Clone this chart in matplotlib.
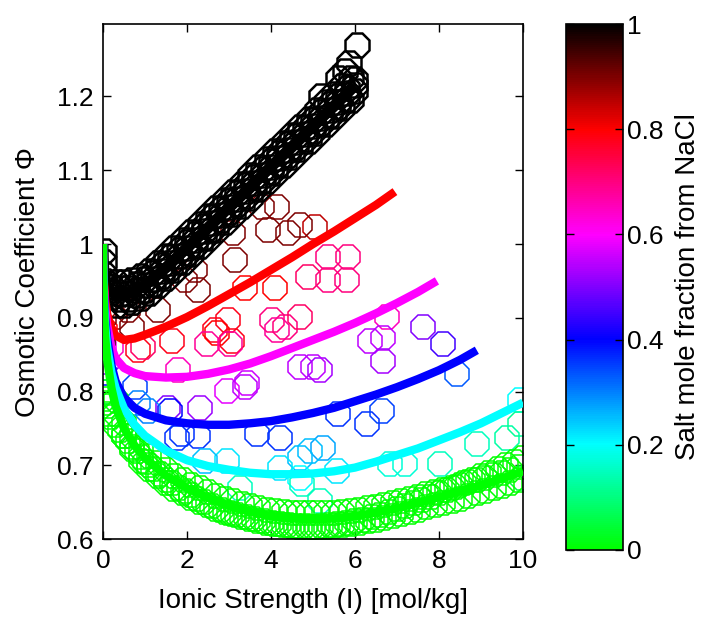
import matplotlib
matplotlib.use("Agg")
import matplotlib.pyplot as plt
from matplotlib.colors import LinearSegmentedColormap, Normalize
from matplotlib.cm import ScalarMappable

plt.rcParams['font.family'] = ['Liberation Sans', 'DejaVu Sans']

# ---------------- data ----------------
# model curves (salt mole fraction from NaCl -> ionic strength, osmotic coefficient)
black_frac = 1.0
black_I = [0, .005, .02, .05, .1, .2, .3, .5, .75, 1, 1.5, 2, 2.5, 3, 3.5, 4, 4.5, 5, 5.5, 6]
black_phi = [1.0, .98, .963, .95, .942, .935, .932, .932, .936, .944, .968, .995, 1.022,
             1.05, 1.077, 1.105, 1.132, 1.16, 1.187, 1.215]

red_frac = 0.8
red_I = [0, .005, .02, .05, .1, .2, .3, .5, .75, 1, 1.5, 2, 2.5, 3, 3.5, 4, 4.5, 5, 5.5, 6, 6.5, 6.95]
red_phi = [1.0, .975, .95, .925, .905, .885, .876, .870, .872, .877, .888, .901, .916, .932,
           .948, .965, .982, 1.000, 1.017, 1.035, 1.053, 1.071]

magenta_frac = 0.6
magenta_I = [0, .005, .02, .05, .1, .2, .3, .5, .75, 1, 1.5, 2, 2.5, 3, 3.5, 4, 4.5, 5, 5.5, 6,
             6.5, 7, 7.5, 7.95]
magenta_phi = [1.0, .97, .945, .915, .89, .86, .845, .832, .825, .821, .819, .820, .824, .830,
               .838, .848, .859, .870, .881, .893, .906, .920, .935, .950]

blue_frac = 0.4
blue_I = [0, .005, .02, .05, .1, .2, .3, .5, .75, 1, 1.5, 2, 2.5, 3, 3.5, 4, 4.5, 5, 5.5, 6,
          6.5, 7, 7.5, 8, 8.5, 8.9]
blue_phi = [1.0, .965, .935, .90, .872, .836, .814, .792, .778, .770, .761, .757, .755, .755,
            .757, .760, .765, .771, .778, .787, .796, .806, .817, .829, .843, .856]

cyan_frac = 0.2
cyan_I = [0, .005, .02, .05, .1, .2, .3, .5, .75, 1, 1.5, 2, 2.5, 3, 3.5, 4, 4.5, 5, 5.5, 6,
          6.5, 7, 7.5, 8, 8.5, 9, 9.5, 10]
cyan_phi = [1.0, .96, .925, .89, .86, .826, .805, .777, .755, .740, .720, .707, .699, .694,
            .690, .688, .688, .689, .692, .697, .705, .714, .723, .734, .745, .757, .771, .785]

green_frac = 0.0
green_I = [0, .005, .02, .05, .1, .2, .3, .5, .75, 1, 1.5, 2, 2.5, 3, 3.5, 4, 4.5, 5, 5.5, 6,
           6.5, 7, 7.5, 8, 8.5, 9, 9.5, 10]
green_phi = [1.0, .955, .915, .875, .843, .805, .780, .750, .727, .710, .686, .669, .656, .645,
             .637, .631, .628, .627, .628, .631, .636, .642, .649, .657, .665, .673, .682, .692]

# measured points: pure NaCl (fraction 1)
meas_black_I = [0.02, 0.02, 0.03, 0.05, 0.1, 0.15,
                5.2, 5.6, 5.75, 5.85, 6.05,
                0.2, 0.4, 0.6, 0.8, 1.0, 1.2, 1.4, 1.6, 1.8, 2.0, 2.2, 2.4, 2.6, 2.8, 3.0, 3.2,
                3.4, 3.6, 3.8, 4.0, 4.2, 4.4, 4.6, 4.8, 5.0, 5.2, 5.4, 5.6, 5.8, 6.0,
                0.3, 0.5, 0.7, 0.9, 1.1, 1.3, 1.5, 1.7, 1.9, 2.1, 2.3, 2.5, 2.7, 2.9, 3.1, 3.3,
                3.5, 3.7, 3.9, 4.1, 4.3, 4.5, 4.7, 4.9, 5.1, 5.3, 5.5, 5.7, 5.9,
                0.3, 0.5, 0.7, 0.9, 1.1, 1.3, 1.5, 1.7, 1.9, 2.1, 2.3, 2.5, 2.7, 2.9, 3.1, 3.3,
                3.5, 3.7, 3.9, 4.1, 4.3, 4.5, 4.7, 4.9, 5.1, 5.3, 5.5, 5.7, 5.9,
                0.2, 0.4, 0.6, 0.8, 1.0, 1.2, 1.4, 1.6, 1.8, 2.0, 2.2, 2.4, 2.6, 2.8, 3.0, 3.2,
                3.4, 3.6, 3.8, 4.0, 4.2, 4.4, 4.6, 4.8, 5.0, 5.2, 5.4, 5.6, 5.8, 6.0,
                0.2, 0.4, 0.6, 0.8, 1.0, 1.2, 1.4, 1.6, 1.8, 2.0, 2.2, 2.4, 2.6, 2.8, 3.0, 3.2,
                3.4, 3.6, 3.8, 4.0, 4.2, 4.4, 4.6, 4.8, 5.0, 5.2, 5.4, 5.6, 5.8, 6.0]
meas_black_phi = [0.99, 0.975, 0.96, 0.95, 0.942, 0.938,
                  1.2, 1.225, 1.235, 1.245, 1.27,
                  .935, .932, .933, .938, .944, .953, .963, .974, .984, .995, 1.006, 1.017,
                  1.028, 1.039, 1.05, 1.061, 1.072, 1.083, 1.094, 1.105, 1.116, 1.127, 1.138,
                  1.149, 1.16, 1.171, 1.182, 1.193, 1.204, 1.215,
                  .948, .948, .951, .957, .964, .974, .984, .995, 1.006, 1.016, 1.027, 1.038,
                  1.049, 1.06, 1.071, 1.082, 1.093, 1.104, 1.115, 1.126, 1.137, 1.148, 1.159,
                  1.17, 1.181, 1.192, 1.203, 1.214, 1.225,
                  .918, .918, .921, .927, .934, .944, .954, .965, .976, .986, .997, 1.008,
                  1.019, 1.030, 1.041, 1.052, 1.063, 1.074, 1.085, 1.096, 1.107, 1.118, 1.129,
                  1.140, 1.151, 1.162, 1.173, 1.184, 1.195,
                  .943, .940, .941, .946, .952, .961, .971, .982, .992, 1.003, 1.014, 1.025,
                  1.036, 1.047, 1.058, 1.069, 1.080, 1.091, 1.102, 1.113, 1.124, 1.135, 1.146,
                  1.157, 1.168, 1.179, 1.190, 1.201, 1.212, 1.223,
                  .928, .925, .926, .931, .937, .946, .956, .967, .977, .988, .999, 1.010,
                  1.021, 1.032, 1.043, 1.054, 1.065, 1.076, 1.087, 1.098, 1.109, 1.120, 1.131,
                  1.142, 1.153, 1.164, 1.175, 1.186, 1.197, 1.208]

# measured points: pure second salt (fraction 0)
meas_green_I = [0.02, 0.03, 0.05, 0.1, 0.15, 0.2, 0.3, 0.4, 0.5, 0.6, 0.7, 0.8, 0.9, 1.0, 1.1,
                1.2, 1.35, 1.5, 1.65, 1.8, 1.95, 2.1, 2.25, 2.4, 2.6, 2.8, 3.0, 3.2, 3.4, 3.6,
                3.8, 4.0, 4.2, 4.4, 4.6, 4.8, 5.0, 5.2, 5.4, 5.6, 5.8, 6.0, 6.2, 6.4, 6.6, 6.8,
                7.0, 7.2, 7.4, 7.6, 7.8, 8.0, 8.2, 8.4, 8.6, 8.8, 9.0, 9.2, 9.4, 9.6, 9.8, 10.0,
                0.3, 0.5, 0.7, 0.9, 1.1, 1.3, 1.5, 1.7, 1.9, 2.1, 2.3, 2.5, 2.7, 2.9, 3.1, 3.3,
                3.5, 3.7, 3.9, 4.1, 4.3, 4.5, 4.7, 4.9, 5.1, 5.3, 5.5, 5.7, 5.9, 6.1, 6.3, 6.5,
                6.7, 6.9, 7.1, 7.3, 7.5, 7.7, 7.9, 8.1, 8.3, 8.5, 8.7, 8.9, 9.1, 9.3, 9.5, 9.7,
                9.9,
                0.3, 0.5, 0.7, 0.9, 1.1, 1.3, 1.5, 1.7, 1.9, 2.1, 2.3, 2.5, 2.7, 2.9, 3.1, 3.3,
                3.5, 3.7, 3.9, 4.1, 4.3, 4.5, 4.7, 4.9, 5.1, 5.3, 5.5, 5.7, 5.9, 6.1, 6.3, 6.5,
                6.7, 6.9, 7.1, 7.3, 7.5, 7.7, 7.9, 8.1, 8.3, 8.5, 8.7, 8.9, 9.1, 9.3, 9.5, 9.7,
                9.9]
meas_green_phi = [0.80, 0.79, 0.785, 0.78, 0.77, 0.765, 0.755, 0.748, 0.74, 0.733, 0.725, 0.72,
                  0.712, 0.705, 0.70, 0.695, 0.688, 0.68, 0.676, 0.67, 0.665, 0.66, 0.655, 0.65,
                  0.645, 0.64, 0.636, 0.633, 0.63, 0.627, 0.625, 0.622, 0.62, 0.619, 0.618,
                  0.618, 0.617, 0.618, 0.619, 0.62, 0.622, 0.624, 0.626, 0.63, 0.633, 0.637,
                  0.641, 0.645, 0.649, 0.653, 0.657, 0.662, 0.666, 0.671, 0.676, 0.68, 0.685,
                  0.69, 0.695, 0.70, 0.705, 0.71,
                  .788, .758, .740, .724, .713, .703, .694, .686, .680, .674, .669, .664, .659,
                  .655, .652, .648, .645, .642, .640, .638, .637, .636, .635, .635, .635, .635,
                  .636, .637, .638, .640, .642, .644, .646, .649, .652, .655, .657, .661, .664,
                  .667, .670, .673, .677, .680, .683, .687, .690, .694, .698,
                  .770, .740, .722, .706, .695, .685, .676, .668, .662, .656, .651, .646, .641,
                  .637, .634, .630, .627, .624, .622, .620, .619, .618, .617, .617, .617, .617,
                  .618, .619, .620, .622, .624, .626, .628, .631, .634, .637, .639, .643, .646,
                  .649, .652, .655, .659, .662, .665, .669, .672, .676, .680]

# measured points: mixtures (ionic strength, osmotic coefficient, NaCl fraction)
mix_I = [3.79, 4.14, 3.93, 4.40, 3.10, 3.14, 2.19, 2.26, 1.95, 5.05, 1.31, 0.60, 0.29, 0.05, 0.69,
         4.69,
         3.38, 4.10, 2.98, 2.67, 3.07, 1.64, 0.83, 0.05, 2.71,
         5.36, 5.83, 4.88, 5.36, 5.81, 4.02, 4.33, 4.69, 2.48, 3.02, 4.14, 0.95, 1.79,
         2.95, 3.43, 2.31, 4.69, 5.17, 6.76, 6.36, 6.67, 6.67, 7.62, 8.10, 5.00, 3.38, 1.55,
         8.43, 5.60, 6.28, 6.64, 1.60, 3.67, 4.21, 1.76, 1.88, 2.26, 0.76, 1.07,
         5.24, 4.69, 5.57, 4.93, 2.95, 4.69, 4.21, 0.83, 2.43,
         6.83, 7.19, 8.02, 8.90, 9.62, 9.93, 9.93, 9.98, 5.17, 3.26, 4.74,
         0.02, 0.02, 0.03, 0.03, 0.02, 0.10, 0.20, 0.01]
mix_phi = [1.050, 1.050, 1.019, 1.015, 1.015, 0.978, 0.965, 0.937, 0.951, 1.023, 0.910, 0.910,
           0.901, 0.914, 0.887, 1.026,
           0.941, 0.941, 0.897, 0.883, 0.869, 0.869, 0.856, 0.883, 0.880,
           0.982, 0.982, 0.955, 0.951, 0.951, 0.897, 0.887, 0.901, 0.865, 0.865, 0.883, 0.860,
           0.829,
           0.801, 0.811, 0.778, 0.833, 0.829, 0.901, 0.869, 0.873, 0.842, 0.887, 0.865, 0.833,
           0.806, 0.778,
           0.824, 0.770, 0.756, 0.774, 0.774, 0.743, 0.737, 0.737, 0.743, 0.740, 0.806, 0.774,
           0.724, 0.710, 0.693, 0.720, 0.706, 0.683, 0.697, 0.784, 0.706,
           0.702, 0.702, 0.702, 0.729, 0.737, 0.788, 0.756, 0.683, 0.652, 0.669, 0.675,
           0.825, 0.86, 0.88, 0.90, 0.80, 0.84, 0.86, 0.87]
mix_frac = [0.9, 0.9, 0.9, 0.9, 0.9, 0.9, 0.9, 0.9, 0.9, 0.85, 0.9, 0.9, 0.9, 0.9, 0.9, 0.9,
            0.8, 0.8, 0.78, 0.78, 0.78, 0.78, 0.78, 0.8, 0.8,
            0.7, 0.7, 0.72, 0.7, 0.7, 0.7, 0.7, 0.72, 0.68, 0.68, 0.68, 0.72, 0.65,
            0.58, 0.56, 0.52, 0.55, 0.53, 0.65, 0.55, 0.55, 0.53, 0.5, 0.45, 0.55, 0.55, 0.5,
            0.33, 0.36, 0.36, 0.35, 0.4, 0.36, 0.36, 0.36, 0.36, 0.36, 0.35, 0.3,
            0.27, 0.25, 0.22, 0.25, 0.22, 0.2, 0.22, 0.3, 0.25,
            0.17, 0.17, 0.15, 0.15, 0.13, 0.2, 0.12, 0.05, 0.15, 0.15, 0.15,
            0.4, 0.6, 0.8, 0.9, 0.2, 0.5, 0.65, 0.95]

cbar_ticks = [0, 0.2, 0.4, 0.6, 0.8, 1]
cbar_ticklabels = ['0', '0.2', '0.4', '0.6', '0.8', '1']
x_ticks = [0, 2, 4, 6, 8, 10]
y_ticks = [0.6, 0.7, 0.8, 0.9, 1.0, 1.1, 1.2]
y_ticklabels = ['0.6', '0.7', '0.8', '0.9', '1', '1.1', '1.2']

# ---------------- plotting ----------------
cmap = LinearSegmentedColormap.from_list(
    'nacl', [(0.0, (0, 1, 0)), (0.2, (0, 1, 1)), (0.4, (0, 0, 1)),
             (0.6, (1, 0, 1)), (0.8, (1, 0, 0)), (1.0, (0, 0, 0))], N=256)
norm = Normalize(0, 1)

fig = plt.figure(figsize=(7.03, 6.19), dpi=100)
ax = fig.add_axes([0.1465, 0.129, 0.5975, 0.832])

ms = 19
def markers(xs, ys, fr, mew):
    for x, y, f in zip(xs, ys, fr):
        ax.plot([x], [y], linestyle='none', marker='8', ms=ms, mfc='none',
                mec=cmap(norm(f)), mew=mew, clip_on=True)

markers(mix_I, mix_phi, mix_frac, 1.1)
markers(meas_green_I, meas_green_phi, [0.0] * len(meas_green_I), 1.1)
markers(meas_black_I, meas_black_phi, [1.0] * len(meas_black_I), 1.8)

for I, phi, fr, lw in [(black_I, black_phi, black_frac, 8), (red_I, red_phi, red_frac, 6),
                       (magenta_I, magenta_phi, magenta_frac, 6), (blue_I, blue_phi, blue_frac, 6),
                       (cyan_I, cyan_phi, cyan_frac, 6), (green_I, green_phi, green_frac, 6)]:
    ax.plot(I, phi, color=cmap(norm(fr)), lw=lw, solid_capstyle='butt', zorder=3)

ax.set_xlim(0, 10)
ax.set_ylim(0.6, 1.298)
ax.set_xticks(x_ticks)
ax.set_xticklabels([str(t) for t in x_ticks])
ax.set_yticks(y_ticks)
ax.set_yticklabels(y_ticklabels)
ax.tick_params(direction='in', top=True, right=True, length=6, width=1,
               labelsize=19, pad=7)
for s in ax.spines.values():
    s.set_linewidth(1.2)
ax.set_xlabel('Ionic Strength (I) [mol/kg]', fontsize=20, labelpad=11)
ax.set_ylabel('Osmotic Coefficient \u03a6', fontsize=20, labelpad=11)

cax = fig.add_axes([0.805, 0.1115, 0.081, 0.8495])
cb = fig.colorbar(ScalarMappable(norm=norm, cmap=cmap), cax=cax)
cb.set_ticks(cbar_ticks)
cb.set_ticklabels(cbar_ticklabels)
cb.outline.set_linewidth(1.2)
cax.tick_params(direction='in', left=True, right=True, length=6, width=1,
                labelsize=19, pad=3)
cb.set_label('Salt mole fraction from NaCl', fontsize=20, labelpad=8)

fig.savefig('out.png', dpi=100)
